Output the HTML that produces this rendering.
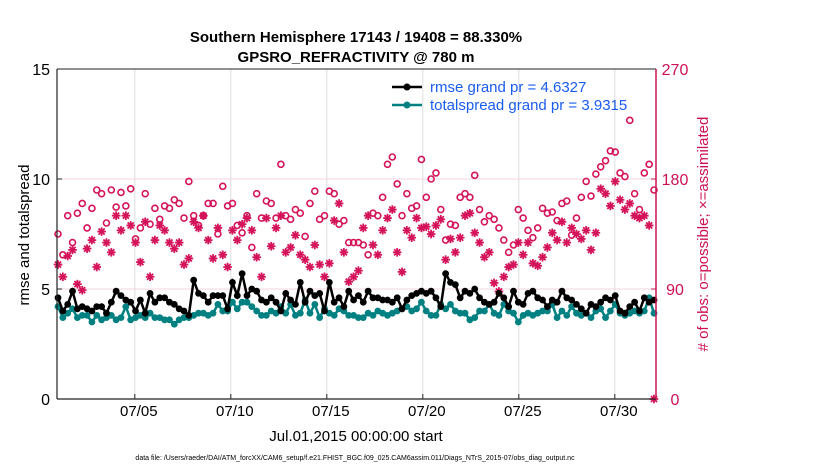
<!DOCTYPE html>
<html><head><meta charset="utf-8"><style>
body{margin:0;background:#fff;}
svg{display:block;font-family:"Liberation Sans",sans-serif;}
</style></head><body>
<svg id="chart" width="830" height="470" viewBox="0 0 830 470" xmlns="http://www.w3.org/2000/svg">
<rect width="830" height="470" fill="#fff"/>
<text x="356" y="42" text-anchor="middle" font-size="15" font-weight="bold">Southern Hemisphere 17143 / 19408 = 88.330%</text>
<text x="356" y="62" text-anchor="middle" font-size="15" font-weight="bold">GPSRO_REFRACTIVITY @ 780 m</text>
<g id="grid"></g>
<g id="marks"></g>
<g id="axes"></g>
<text transform="translate(29,235) rotate(-90)" text-anchor="middle" font-size="15">rmse and totalspread</text>
<text transform="translate(708,234) rotate(-90)" text-anchor="middle" font-size="15" fill="#cc1155"># of obs: o=possible; ×=assimilated</text>
<text x="356" y="441" text-anchor="middle" font-size="15">Jul.01,2015 00:00:00 start</text>
<text x="355" y="460" text-anchor="middle" font-size="7">data file: /Users/raeder/DAI/ATM_forcXX/CAM6_setup/f.e21.FHIST_BGC.f09_025.CAM6assim.011/Diags_NTrS_2015-07/obs_diag_output.nc</text>
<g>
<line x1="392" y1="87" x2="422" y2="87" stroke="#000" stroke-width="2.5"/><circle cx="407" cy="87" r="3.5" fill="#000"/>
<text x="430" y="92" font-size="15" fill="#1a5cf0">rmse grand pr = 4.6327</text>
<line x1="392" y1="105" x2="422" y2="105" stroke="#008080" stroke-width="2.5"/><circle cx="407" cy="105" r="3.5" fill="#008080"/>
<text x="430" y="110" font-size="15" fill="#1a5cf0">totalspread grand pr = 3.9315</text>
</g>
</svg>
<script>
const xTickLabels=["07/05","07/10","07/15","07/20","07/25","07/30"];
const xTickDays=[4,9,14,19,24,29];
const yTicks=[0,5,10,15];
const y2Ticks=[0,90,180,270];
const rmse=[4.6,4.0,4.3,4.9, 4.1,4.2,4.1,4.0, 4.2,4.2,3.9,4.4, 4.9,4.7,4.5,4.4, 4.0,4.5,3.9,4.8, 4.4,4.6,4.6,4.4, 4.3,4.1,4.0,3.8, 5.4,4.8,4.7,4.4, 4.7,4.7,4.7,4.1, 5.3,4.7,5.7,4.7, 5.0,4.9,4.5,4.4, 4.6,4.4,4.0,4.8, 4.5,4.3,5.3,4.4, 4.9,4.7,4.8,4.0, 5.3,4.4,4.6,4.2, 4.9,4.5,4.7,4.4, 4.9,4.6,4.6,4.5, 4.5,4.4,4.6,4.1, 4.5,4.7,4.8,4.9, 4.8,4.9,4.6,4.2, 5.7,5.3,5.2,4.6, 4.9,4.8,5.0,4.6, 4.4,4.3,4.4,4.8, 4.6,4.2,4.9,4.4, 4.3,4.8,4.9,4.6, 4.5,4.2,4.5,4.4, 4.9,4.6,4.5,4.3, 4.1,3.9,4.3,4.2, 4.4,4.6,4.5,4.7, 4.0,3.9,4.2,4.4, 4.0,4.6,4.4,4.5];
const spread=[4.2,3.7,3.9,4.1, 3.7,3.8,3.8,3.5, 3.8,3.6,3.7,3.8, 3.6,3.7,4.2,3.6, 3.7,3.8,3.7,3.9, 3.7,3.7,3.6,3.6, 3.4,3.6,3.7,3.7, 3.8,3.9,3.9,3.8, 3.9,4.3,4.0,4.0, 4.4,4.1,4.4,4.4, 4.2,4.0,3.8,3.8, 4.0,3.9,4.2,3.9, 4.3,3.8,3.9,4.5, 3.9,4.3,3.7,4.1, 3.9,3.8,4.1,4.0, 3.8,3.8,3.7,3.7, 3.9,3.8,4.0,3.9, 3.8,3.9,4.0,4.1, 4.2,4.0,4.1,4.4, 4.0,3.8,3.8,4.3, 4.1,4.3,4.0,3.9, 3.9,3.6,3.7,4.0, 4.0,4.3,3.9,3.8, 4.3,4.0,3.9,3.5, 3.8,3.9,3.8,3.9, 4.0,4.0,4.3,3.7, 4.0,3.8,4.2,3.9, 3.8,3.9,3.7,4.0, 4.1,3.7,4.0,4.3, 3.9,3.8,3.9,4.0, 3.9,4.0,4.6,3.9];
const possible=[135,118,150,128, 152,160,140,156, 171,168,144,171, 157,169,158,172, 131,140,168,143, 156,147,158,156, 163,160,148,178, 150,142,150,160, 160,135,174,158, 160,142,136,150, 124,168,148,162, 160,148,192,150, 147,155,152,133, 160,170,147,150, 170,168,143,146, 128,128,128,126, 118,152,150,165, 192,198,176,150, 168,156,158,196, 165,180,185,155, 130,143,142,165, 168,165,183,155, 145,150,147,140, 130,120,126,155, 148,138,132,140, 156,152,153,146, 160,162,134,148, 165,178,166,184, 190,195,203,202, 185,182,228,168, 155,185,192,171];
const assimilated=[110,100,117,122, 94,89,123,130, 108,137,128,120, 150,138,150,142, 128,112,145,100, 130,142,138,128, 123,128,110,115, 145,140,150,130, 115,140,118,108, 138,130,143,148, 138,116,100,148, 125,140,150,120, 124,134,118,114, 108,126,110,100, 111,146,160,120, 96,100,105,140, 150,126,118,138, 148,155,120,104, 138,132,148,140, 141,135,142,147, 114,131,120,132, 150,152,136,128, 116,120,95,88, 100,108,110,128, 118,128,111,109, 116,124,136,130, 145,128,140,135, 131,138,122,136, 172,168,158,178, 163,155,160,150, 148,150,142,0];

const L=57,R=656,T=69,B=399;
const dayW=19.2;
const xd=d=>L+1+d*dayW;
const y=v=>B-(v/15)*(B-T);
const y2=v=>B-(v/270)*(B-T);
const NS="http://www.w3.org/2000/svg";
function mk(tag,attrs,parent){const e=document.createElementNS(NS,tag);for(const k in attrs)e.setAttribute(k,attrs[k]);parent.appendChild(e);return e;}
const grid=document.getElementById('grid'),marks=document.getElementById('marks'),axes=document.getElementById('axes');

xTickDays.forEach((d,i)=>{
  const x=xd(d);
  const g=mk('line',{x1:x,y1:T,x2:x,y2:B,stroke:'#ddd','stroke-width':1},grid);
  
  
  mk('line',{x1:x,y1:B,x2:x,y2:B-5,stroke:'#222'},axes);
  const t=mk('text',{x:x+4,y:416,'text-anchor':'middle','font-size':15},axes);
  t.textContent=xTickLabels[i];
  
  
});
yTicks.forEach(v=>{
  const yy=y(v);
  if(v>0&&v<15){const g=mk('line',{x1:L,y1:yy,x2:R,y2:yy,stroke:'#f0d6de','stroke-width':1},grid);
  
  }
  mk('line',{x1:L,y1:yy,x2:L+5,y2:yy,stroke:'#222'},axes);
  const t=mk('text',{x:50,y:yy+6,'text-anchor':'end','font-size':16},axes);
  t.textContent=v;
  
  
});
y2Ticks.forEach(v=>{
  const yy=y2(v);
  mk('line',{x1:R,y1:yy,x2:R-5,y2:yy,stroke:'#cc1155'},axes);
  const t=mk('text',{x:675,y:yy+6,'text-anchor':'middle','font-size':16,fill:'#cc1155'},axes);
  t.textContent=v;
  
  
});
const la=mk('line',{x1:L,y1:T,x2:L,y2:B,stroke:'#222','stroke-width':1.2},axes);


mk('line',{x1:L,y1:B,x2:R,y2:B,stroke:'#222','stroke-width':1.2},axes);
mk('line',{x1:L,y1:T,x2:R,y2:T,stroke:'#222','stroke-width':1},axes);
const ra=mk('line',{x1:R,y1:T,x2:R,y2:B,stroke:'#cc1155','stroke-width':1.5},axes);



const xi=i=>L+1+(i/(possible.length-1))*(R-L-3);
possible.forEach((v,i)=>{
  const c=mk('circle',{cx:xi(i),cy:y2(v),r:3,fill:'none',stroke:'#d4145a','stroke-width':1.6},marks);
  
  
});
assimilated.forEach((v,i)=>{
  const cx=xi(i),cy=y2(v),r=4.3;
  const g=mk('g',{stroke:'#d4145a','stroke-width':1.8},marks);
  
  
  for(let k=0;k<4;k++){const a=k*Math.PI/4;mk('line',{x1:cx-r*Math.cos(a),y1:cy-r*Math.sin(a),x2:cx+r*Math.cos(a),y2:cy+r*Math.sin(a)},g);}
});
function series(arr,color,name){
  const p=mk('polyline',{points:arr.map((v,i)=>xi(i)+','+y(v)).join(' '),fill:'none',stroke:color,'stroke-width':2.5},marks);
  
  
  arr.forEach((v,i)=>{
    const c=mk('circle',{cx:xi(i),cy:y(v),r:3.4,fill:color},marks);
    
    
  });
}
series(spread,'#008080','totalspread');
series(rmse,'#000','rmse');
</script>
</body></html>
